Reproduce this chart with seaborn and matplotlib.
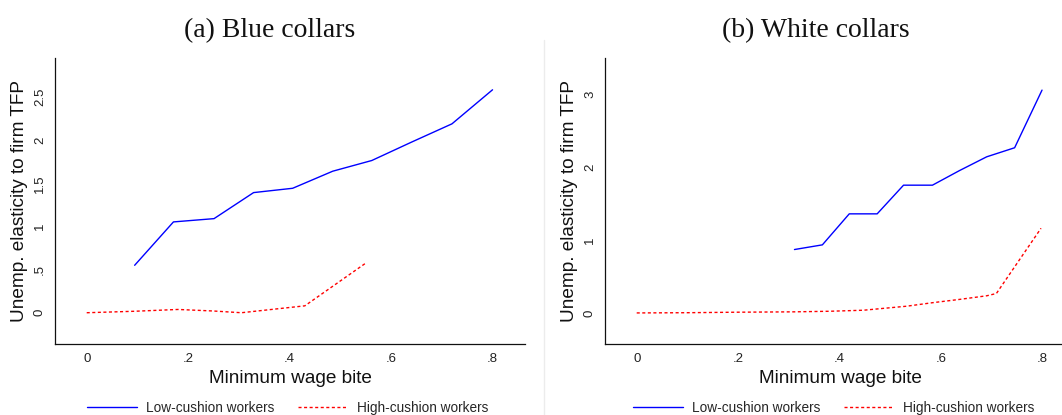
import numpy as np
import pandas as pd
import matplotlib
matplotlib.use("Agg")
import matplotlib.pyplot as plt
from matplotlib.lines import Line2D
import seaborn as sns

# ---- data -------------------------------------------------------------
# (a) Blue collars
blue_low_x = [0.0945, 0.171, 0.251, 0.329, 0.406, 0.485, 0.562, 0.641, 0.720, 0.800]
blue_low_y = [0.55, 1.053, 1.091, 1.393, 1.443, 1.641, 1.765, 1.98, 2.19, 2.585]
blue_high_x = [0.0, 0.094, 0.18, 0.25, 0.305, 0.43, 0.55]
blue_high_y = [0.0, 0.017, 0.038, 0.02, 0.0, 0.08, 0.575]

# (b) White collars
white_low_x = [0.311, 0.366, 0.419, 0.474, 0.526, 0.583, 0.636, 0.690, 0.745, 0.799]
white_low_y = [0.869, 0.933, 1.358, 1.358, 1.751, 1.751, 1.95, 2.14, 2.264, 3.054]
white_high_x = [0.0, 0.1, 0.2, 0.311, 0.381, 0.447, 0.532, 0.583, 0.636, 0.690, 0.709, 0.797]
white_high_y = [0.0, 0.003, 0.01, 0.015, 0.023, 0.037, 0.092, 0.14, 0.185, 0.235, 0.266, 1.16]

titles = ["(a) Blue collars", "(b) White collars"]
series_names = ["Low-cushion workers", "High-cushion workers"]
x_ticks = [0, 0.2, 0.4, 0.6, 0.8]
x_tick_labels = ["0", ".2", ".4", ".6", ".8"]
y_ticks_a = [0, 0.5, 1, 1.5, 2, 2.5]
y_tick_labels_a = ["0", ".5", "1", "1.5", "2", "2.5"]
y_ticks_b = [0, 1, 2, 3]
y_tick_labels_b = ["0", "1", "2", "3"]
x_label = "Minimum wage bite"
y_label = "Unemp. elasticity to firm TFP"

# ---- style ------------------------------------------------------------
sns.set_style("white")
plt.rcParams["font.family"] = ["Liberation Sans", "DejaVu Sans"]

W, H = 1062, 415
fig = plt.figure(figsize=(W / 100, H / 100), dpi=100)

BLUE = "#0000FF"
RED = "#FF0000"
DASH = (0, (2.2, 1.8))


def px_rect(x0, y_top, w, y_bottom):
    return [x0 / W, 1 - y_bottom / H, w / W, (y_bottom - y_top) / H]


panels = [
    dict(rect=px_rect(55, 58.3, 470, 344.3), ylim=(-0.366, 2.95),
         yt=y_ticks_a, ytl=y_tick_labels_a,
         low=(blue_low_x, blue_low_y), high=(blue_high_x, blue_high_y),
         title_x=270, legend_x=287.5, ylabel_x=19.5),
    dict(rect=px_rect(605, 58.3, 470, 344.3), ylim=(-0.43, 3.49),
         yt=y_ticks_b, ytl=y_tick_labels_b,
         low=(white_low_x, white_low_y), high=(white_high_x, white_high_y),
         title_x=816, legend_x=833.5, ylabel_x=569.5),
]

for i, p in enumerate(panels):
    ax = fig.add_axes(p["rect"])
    low = pd.DataFrame({"bite": p["low"][0], "elasticity": p["low"][1]})
    high = pd.DataFrame({"bite": p["high"][0], "elasticity": p["high"][1]})
    sns.lineplot(data=low, x="bite", y="elasticity", ax=ax, color=BLUE,
                 lw=1.0, sort=False, estimator=None)
    sns.lineplot(data=high, x="bite", y="elasticity", ax=ax, color=RED,
                 lw=1.0, linestyle=DASH, sort=False, estimator=None)

    ax.set_xlim(-0.0625, 0.864)
    ax.set_ylim(*p["ylim"])
    ax.set_xticks(x_ticks)
    ax.set_xticklabels(x_tick_labels)
    ax.set_yticks(p["yt"])
    ax.set_yticklabels(p["ytl"], rotation=90, va="center")
    ax.tick_params(axis="both", direction="out", length=4, width=0.8,
                   color="#222222", labelsize=9.5, labelcolor="#222222", pad=2.5)
    sns.despine(ax=ax)
    for s in ("left", "bottom"):
        ax.spines[s].set_linewidth(0.9)
        ax.spines[s].set_color("#111111")
    ax.set_xlabel("")
    ax.set_ylabel("")

    fig.text(p["title_x"] / W, 1 - 31 / H, titles[i], ha="center", va="center",
             fontsize=20, family=["Liberation Serif", "DejaVu Serif"], color="#111111")
    fig.text((p["rect"][0] + p["rect"][2] / 2) if False else (290 + 550 * i) / W,
             1 - 378 / H, x_label, ha="center", va="center", fontsize=13.7,
             color="#111111")
    fig.text(p["ylabel_x"] / W, 1 - 201 / H, y_label, ha="center", va="center",
             rotation=90, fontsize=13.7, color="#111111")

    handles = [Line2D([], [], color=BLUE, lw=1.0),
               Line2D([], [], color=RED, lw=1.0, linestyle=DASH)]
    ax.legend(handles, series_names, loc="center",
              bbox_to_anchor=(p["legend_x"] / W, 1 - 407.5 / H),
              bbox_transform=fig.transFigure, ncol=2, frameon=False,
              fontsize=9.8, handlelength=3.7, handletextpad=0.63,
              columnspacing=1.76, borderpad=0, borderaxespad=0)

# thin separator between the two panels
fig.add_artist(Line2D([544 / W, 544 / W], [0, 1 - 40 / H], color="#ececec",
                      lw=1.0, transform=fig.transFigure))

fig.savefig("out.png", dpi=100)
